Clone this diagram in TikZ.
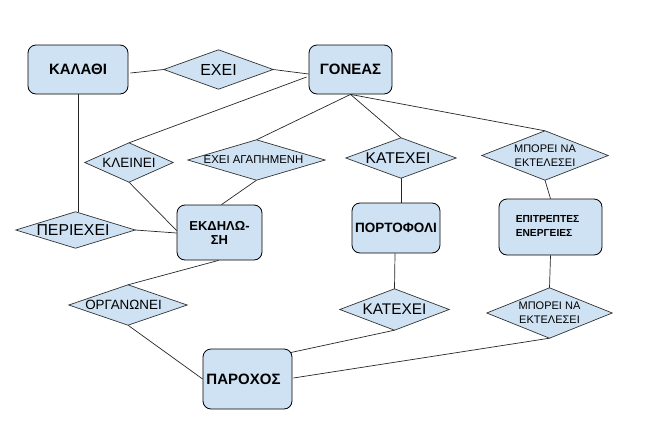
\documentclass[tikz,border=0pt]{standalone}
\usepackage{fontspec}
\setmainfont{Liberation Sans}
\usetikzlibrary{calc,backgrounds}
\definecolor{boxblue}{HTML}{CFE2F3}
\begin{document}
\begin{tikzpicture}[x=1pt,y=-1pt,
  ent/.style={draw=black, fill=boxblue, rounded corners=8pt, line width=0.8pt, inner sep=0pt, align=center},
  rel/.style={inner sep=0pt, align=center},
  dia/.style={draw=black!80, fill=boxblue, line width=0.7pt},
  con/.style={draw=black!85, line width=0.7pt},
  fb/.style={font=\fontsize{#1}{14}\selectfont\bfseries},
  fr/.style={font=\fontsize{#1}{14}\selectfont}
]
\useasboundingbox (0,0) rectangle (653,426);

% entities
\node[ent, fb=15, minimum width=100, minimum height=49] (kalathi) at (78,69.5) {ΚΑΛΑΘΙ};
\node[ent, fb=15, minimum width=83, minimum height=49] (goneas) at (350.5,69.5) {ΓΟΝΕΑΣ};
\node[ent, fb=13, minimum width=85, minimum height=55] (ekdilosi) at (219.5,232.5) {ΕΚΔΗΛΩ-\\ΣΗ};
\node[ent, fb=13.5, minimum width=88, minimum height=50] (portofoli) at (396,228) {ΠΟΡΤΟΦΟΛΙ};
\node[ent, fb=10.2, minimum width=103, minimum height=56] (epitreptes) at (550.5,227)
  {\begin{tabular}{@{}l@{}}ΕΠΙΤΡΕΠΤΕΣ\\ΕΝΕΡΓΕΙΕΣ\end{tabular}\hspace{6pt}};
\node[ent, fb=15, minimum width=89, minimum height=60] (paroxos) at (247.5,379) {\raisebox{-5pt}{ΠΑΡΟΧΟΣ}\hspace{8pt}};

% relationships (text holders; diamonds drawn on background)
\node[rel, fr=16, minimum width=109, minimum height=39] (exei) at (218.5,69.5) {ΕΧΕΙ};
\node[rel, fr=13.5, minimum width=88, minimum height=39] (kleinei) at (129,162.5) {ΚΛΕΙΝΕΙ};
\node[rel, fr=11.4, minimum width=137, minimum height=40] (agapimeni) at (256.5,160) {ΕΧΕΙ ΑΓΑΠΗΜΕΝΗ\hspace{6pt}};
\node[rel, fr=15.6, minimum width=110, minimum height=40] (katexei1) at (401,158) {ΚΑΤΕΧΕΙ\hspace{6pt}};
\node[rel, fr=11, minimum width=126, minimum height=49] (mporei1) at (545,155.5) {ΜΠΟΡΕΙ ΝΑ\\ΕΚΤΕΛΕΣΕΙ};
\node[rel, fr=15.8, minimum width=119, minimum height=36] (periexei) at (75.5,230) {ΠΕΡΙΕΧΕΙ\hspace{5pt}};
\node[rel, fr=13.4, minimum width=118, minimum height=40] (organonei) at (128,305) {ΟΡΓΑΝΩΝΕΙ\hspace{9pt}};
\node[rel, fr=15.4, minimum width=109, minimum height=41] (katexei2) at (394.5,309.5) {ΚΑΤΕΧΕΙ};
\node[rel, fr=11, minimum width=125, minimum height=50] (mporei2) at (549.5,313) {ΜΠΟΡΕΙ ΝΑ\\ΕΚΤΕΛΕΣΕΙ};

\begin{pgfonlayer}{background}
  % connectors
  \draw[con] ($(kalathi.east)+(2,3.5)$) -- (exei.west);
  \draw[con] (exei.east) -- ($(goneas.west)+(0,4.5)$);
  \draw[con] ($(goneas.west)+(-2,7.5)$) -- (kleinei.north);
  \draw[con] (goneas.south) -- (agapimeni.north);
  \draw[con] (goneas.south) -- (katexei1.north);
  \draw[con] (goneas.south) -- (mporei1.north);
  \draw[con] (mporei1.south) -- (epitreptes.north);
  \draw[con] (katexei1.south) -- ($(portofoli.north)+(5,0)$);
  \draw[con] ($(portofoli.south)+(-1,0)$) -- (katexei2.north);
  \draw[con] (epitreptes.south) -- (mporei2.north);
  \draw[con] (katexei2.south) -- ($(paroxos.north east)+(-2,4)$);
  \draw[con] (mporei2.south) -- ($(paroxos.east)+(1,-1)$);
  \draw[con] (kalathi.south) -- (kalathi.south |- periexei.north);
  \draw[con] (kleinei.south) -- ($(ekdilosi.west)+(0,-2)$);
  \draw[con] (periexei.east) -- ($(ekdilosi.west)+(0,0.5)$);
  \draw[con] (agapimeni.south) -- ($(ekdilosi.north)+(2,0)$);
  \draw[con] ($(ekdilosi.south)+(-1,0)$) -- (organonei.north);
  \draw[con] (organonei.south) -- (paroxos.west);
  % diamonds
  \foreach \n in {exei,kleinei,agapimeni,katexei1,mporei1,periexei,organonei,katexei2,mporei2}
    \draw[dia] (\n.north) -- (\n.east) -- (\n.south) -- (\n.west) -- cycle;
\end{pgfonlayer}
\end{tikzpicture}
\end{document}
